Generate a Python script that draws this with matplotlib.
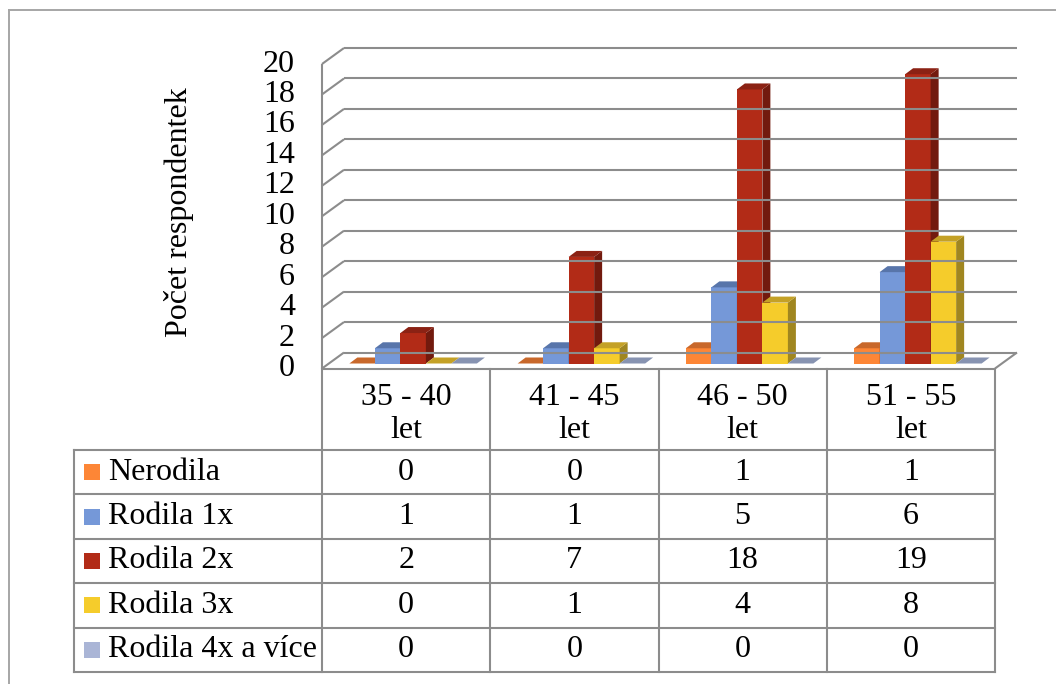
import numpy as np
import matplotlib.pyplot as plt
from matplotlib.patches import Polygon, Rectangle

# Počet respondentek podle věku a počtu porodů
categories = ['35 - 40\nlet', '41 - 45\nlet', '46 - 50\nlet', '51 - 55\nlet']
series = ['Nerodila', 'Rodila 1x', 'Rodila 2x', 'Rodila 3x', 'Rodila 4x a více']
nerodila = [0, 0, 1, 1]
rodila_1x = [1, 1, 5, 6]
rodila_2x = [2, 7, 18, 19]
rodila_3x = [0, 1, 4, 8]
rodila_4x = [0, 0, 0, 0]
values = [nerodila, rodila_1x, rodila_2x, rodila_3x, rodila_4x]
yticks = list(range(0, 21, 2))

c_front = ['#FD8636', '#7598D8', '#B22B17', '#F5CC2B', '#AAB5D6']
c_top = ['#C8682B', '#5875AA', '#8B2214', '#C4A126', '#8793B1']
c_side = ['#B35A22', '#4F6A9C', '#721A0E', '#A08620', '#7A86A3']
grid_c = '#8C8C8C'

plt.rcParams['font.family'] = ['Liberation Serif', 'DejaVu Serif']
FS = 23

W, H = 1056, 684
fig = plt.figure(figsize=(W / 100, H / 100), dpi=100)


def px_axes(left, top, right, bottom):
    return fig.add_axes([left / W, 1 - bottom / H, (right - left) / W, (bottom - top) / H])


# outer frame
bg = px_axes(0, 0, W, H)
bg.set_xlim(0, W)
bg.set_ylim(H, 0)
bg.axis('off')
bg.plot([9, 9], [10, H], color='#A6A6A6', lw=1.4)
bg.plot([9, W], [10, 10], color='#A6A6A6', lw=1.4)

# front plane of the 3D chart: x in categories, y in values
ax = px_axes(322, 64, 995, 368.5)
ax.set_xlim(0, 4)
ax.set_ylim(0, 20)
ax.axis('off')
ax.patch.set_visible(False)

px_x = 673 / 4.0      # pixels per category
px_y = 304.5 / 20.0   # pixels per value unit
Dx, Dy = 22 / px_x, 16 / px_y     # depth of the back wall
Fx, Fy = 7 / px_x, 5 / px_y       # front of the bars
dx, dy = 8 / px_x, 6 / px_y       # bar depth

kw = dict(color=grid_c, lw=1.5, clip_on=False, solid_capstyle='butt')
for v in yticks:
    ax.plot([0, Dx], [v, v + Dy], **kw)
    ax.plot([Dx, 4 + Dx], [v + Dy, v + Dy], **kw)
    ax.text(-0.16, v, str(v), ha='right', va='center', fontsize=FS)
ax.plot([0, 0], [0, 20], **kw)
ax.plot([0, 4], [0, 0], **kw)
ax.plot([4, 4 + Dx], [0, Dy], **kw)

ax.text(-0.85, 10.3, 'Počet respondentek', rotation=90, ha='center', va='center', fontsize=FS)

w = 0.1516
for c in range(len(categories)):
    for s in range(len(series)):
        v = values[s][c]
        x0 = c + 0.5 - 2.5 * w + s * w + Fx
        if v > 0:
            ax.bar(x0, v, width=w, bottom=Fy, align='edge', color=c_front[s], lw=0, clip_on=False)
            ax.add_patch(Polygon([(x0 + w, Fy), (x0 + w, v + Fy), (x0 + w + dx, v + Fy + dy),
                                  (x0 + w + dx, Fy + dy)], closed=True, color=c_side[s], lw=0,
                                 clip_on=False))
        ax.add_patch(Polygon([(x0, v + Fy), (x0 + w, v + Fy), (x0 + w + dx, v + Fy + dy),
                              (x0 + dx, v + Fy + dy)], closed=True, color=c_top[s], lw=0,
                             clip_on=False))

# data table below the chart
left_col = -(322 - 74) / px_x
head = 81 / 44.4
tb = px_axes(74, 369, 995, 672)
tb.set_xlim(left_col, 4)
tb.set_ylim(5, -head)
tb.axis('off')
tb.patch.set_visible(False)

tk = dict(color=grid_c, lw=1.5, clip_on=False, solid_capstyle='projecting')
for j in range(5):
    tb.plot([j, j], [-head, 5], **tk)
tb.plot([left_col, left_col], [0, 5], **tk)
for i in range(6):
    tb.plot([left_col, 4], [i, i], **tk)

for j, cat in enumerate(categories):
    tb.text(j + 0.5, -head / 2 + 0.1, cat, ha='center', va='center', fontsize=FS,
            linespacing=1.15)

sq_w = 16 / px_x
sq_h = 16 / 44.4
for i, name in enumerate(series):
    tb.add_patch(Rectangle((left_col + 10 / px_x, i + 0.5 - sq_h / 2), sq_w, sq_h,
                           color=c_front[i], lw=0))
    tb.text(left_col + 34 / px_x, i + 0.5, name, ha='left', va='center', fontsize=FS)
    for j in range(len(categories)):
        tb.text(j + 0.5, i + 0.5, str(values[i][j]), ha='center', va='center', fontsize=FS)

fig.savefig('out.png', dpi=100, facecolor='white')
